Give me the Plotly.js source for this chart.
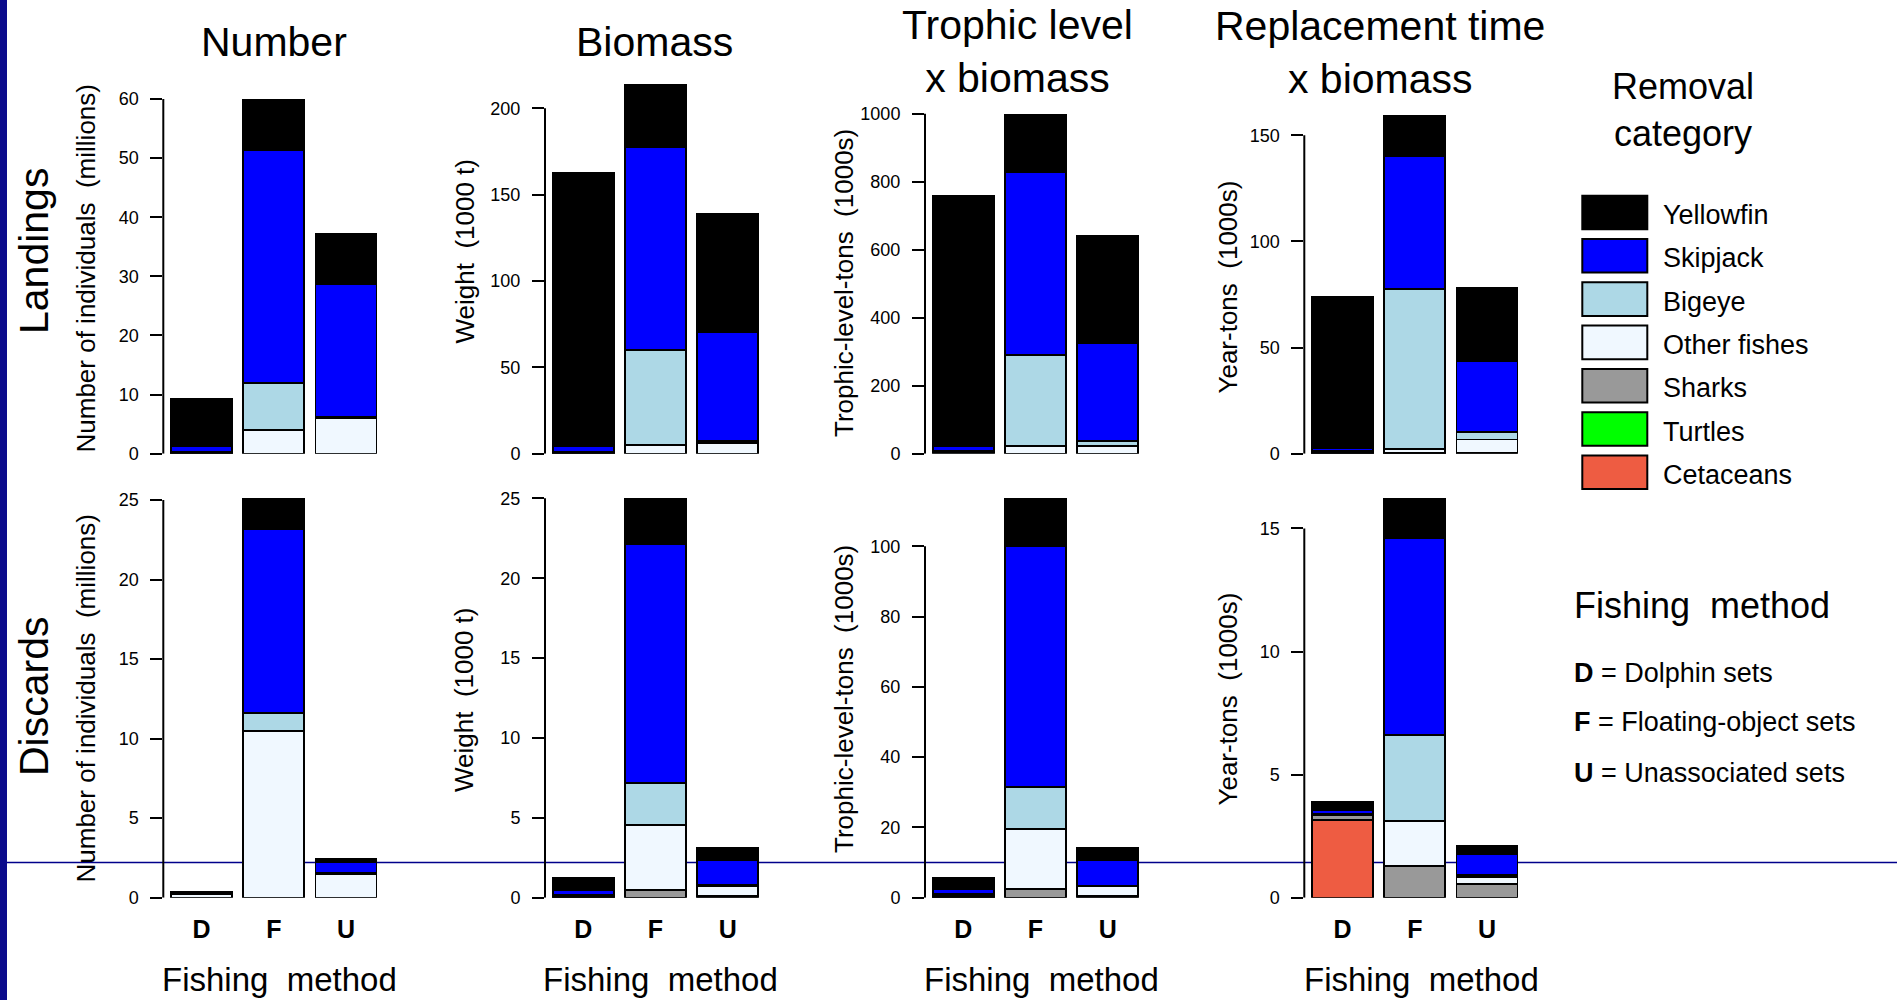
<!DOCTYPE html>
<html>
<head>
<meta charset="utf-8">
<script src="https://cdn.plot.ly/plotly-3.0.1.min.js"></script>
<style>html,body{margin:0;padding:0;background:#fff;}#chart{width:1897px;height:1000px;}</style>
</head>
<body>
<div id="chart"></div>
<script>
// ---------------- DATA ----------------
const categories = ['Yellowfin','Skipjack','Bigeye','Other fishes','Sharks','Turtles','Cetaceans'];
const colors = ['#000000','#0000FF','#ADD8E6','#F0F8FF','#999999','#00FF00','#EE5C42'];
const methods = ['D','F','U'];
const methodNames = ['Dolphin sets','Floating-object sets','Unassociated sets'];

// rows follow `categories`, columns follow `methods` (D, F, U)
const landingsNumber = [   // millions of individuals
  [7.9, 8.5, 8.4],
  [1.0, 39.4, 22.4],
  [0.2, 7.9, 0.3],
  [0.14, 4.0, 6.0],
  [0, 0, 0],
  [0, 0, 0],
  [0, 0, 0]
];
const landingsBiomass = [  // 1000 t
  [158.2, 36.2, 68.4],
  [3.3, 117.5, 62.7],
  [0.7, 54.8, 1.5],
  [0.5, 5.2, 6.0],
  [0, 0, 0],
  [0, 0, 0],
  [0, 0, 0]
];
const landingsTrophic = [  // trophic-level-tons (1000s)
  [735.5, 167, 314],
  [15.5, 539, 289],
  [4, 268, 15],
  [4, 22, 22],
  [0, 0, 0],
  [0, 0, 0],
  [0, 0, 0]
];
const landingsReplacement = [ // year-tons (1000s)
  [71.2, 19.1, 34.7],
  [1.5, 62.6, 33.3],
  [0.6, 75.3, 3.5],
  [0.5, 2.0, 6.1],
  [0, 0.3, 0.6],
  [0, 0, 0],
  [0, 0, 0]
];
const discardsNumber = [
  [0.13, 1.85, 0.25],
  [0.02, 11.6, 0.69],
  [0, 1.1, 0.03],
  [0.2, 10.5, 1.5],
  [0, 0, 0],
  [0, 0, 0],
  [0, 0, 0]
];
const discardsBiomass = [
  [0.75, 2.82, 0.77],
  [0.3, 14.95, 1.52],
  [0.05, 2.63, 0.1],
  [0.1, 4.09, 0.63],
  [0.05, 0.48, 0.1],
  [0, 0, 0],
  [0, 0, 0]
];
const discardsTrophic = [
  [3.33, 13.4, 3.5],
  [1.33, 68.5, 7.3],
  [0.24, 12.1, 0.1],
  [0.5, 17.0, 2.8],
  [0.3, 2.5, 0.5],
  [0, 0, 0],
  [0, 0, 0]
];
const discardsReplacement = [
  [0.34, 1.59, 0.35],
  [0.14, 7.99, 0.84],
  [0.02, 3.5, 0.07],
  [0.05, 1.8, 0.3],
  [0.2, 1.3, 0.55],
  [0, 0, 0],
  [3.15, 0, 0]
];

const ticksNumberL = [0, 10, 20, 30, 40, 50, 60];
const ticksBiomassL = [0, 50, 100, 150, 200];
const ticksTrophicL = [0, 200, 400, 600, 800, 1000];
const ticksReplL = [0, 50, 100, 150];
const ticksNumberD = [0, 5, 10, 15, 20, 25];
const ticksBiomassD = [0, 5, 10, 15, 20, 25];
const ticksTrophicD = [0, 20, 40, 60, 80, 100];
const ticksReplD = [0, 5, 10, 15];

const panelTitles = ['Number', 'Biomass', 'Trophic level<br>x biomass', 'Replacement time<br>x biomass'];
const yTitles = ['Number of individuals \u00A0(millions)', 'Weight \u00A0(1000 t)', 'Trophic-level-tons \u00A0(1000s)', 'Year-tons \u00A0(1000s)'];
const rowLabels = ['Landings', 'Discards'];

// ---------------- LAYOUT HELPERS ----------------
const W = 1897, H = 1000;
const px = v => v / W;
const py = v => 1 - v / H;
const FONT = 'Liberation Sans, Arial, Helvetica, sans-serif';

const axisX = [163.3, 545, 925, 1304.3];        // y-axis line position of each column (px)
const rowBase = [453.7, 897.7];                 // pixel of value 0 in each row
const rowTop = [60, 490];
const colWidthPx = 240;
const unitPx = 72.2;                            // px per category step
const axisOff = 0.53;                           // axis position left of first bar centre (category units)
const rangeMax = [66.6, 228.0, 1158, 185.5, 25.63, 25.52, 116.0, 16.56];

const panels = [
  {data: landingsNumber, ticks: ticksNumberL},
  {data: landingsBiomass, ticks: ticksBiomassL},
  {data: landingsTrophic, ticks: ticksTrophicL},
  {data: landingsReplacement, ticks: ticksReplL},
  {data: discardsNumber, ticks: ticksNumberD},
  {data: discardsBiomass, ticks: ticksBiomassD},
  {data: discardsTrophic, ticks: ticksTrophicD},
  {data: discardsReplacement, ticks: ticksReplD}
];

const traces = [];
const layout = {
  width: W, height: H,
  margin: {l: 0, r: 0, t: 0, b: 0},
  paper_bgcolor: '#ffffff',
  plot_bgcolor: 'rgba(0,0,0,0)',
  barmode: 'stack',
  showlegend: false,
  font: {family: FONT, color: '#000'},
  shapes: [],
  annotations: []
};

panels.forEach((p, i) => {
  const row = Math.floor(i / 4), col = i % 4;
  const n = i + 1;
  const xk = n === 1 ? 'x' : 'x' + n;
  const yk = n === 1 ? 'y' : 'y' + n;
  for (let c = categories.length - 1; c >= 0; c--) {
    traces.push({
      type: 'bar', x: methods, y: p.data[c],
      xaxis: xk, yaxis: yk, width: 0.845,
      name: categories[c],
      marker: {color: colors[c], line: {color: '#000', width: 1.8}},
      hoverinfo: 'skip', showlegend: false
    });
  }
  const x0 = axisX[col];
  layout['xaxis' + (n === 1 ? '' : n)] = {
    domain: [px(x0), px(x0 + colWidthPx)],
    anchor: yk, type: 'category',
    range: [-axisOff, -axisOff + colWidthPx / unitPx],
    showline: false, showgrid: false, zeroline: false, ticks: '',
    showticklabels: row === 1,
    tickmode: 'array', tickvals: methods,
    ticktext: methods.map(m => '<b>' + m + '</b>'),
    tickfont: {size: 25, family: FONT, color: '#000'},
    ticklabelstandoff: 14,
    fixedrange: true
  };
  layout['yaxis' + (n === 1 ? '' : n)] = {
    domain: [py(rowBase[row]), py(rowTop[row])],
    anchor: xk,
    range: [0, rangeMax[i]],
    showline: false, showgrid: false, zeroline: false,
    ticks: 'outside', ticklen: 12, tickwidth: 2, tickcolor: '#000',
    tickmode: 'array', tickvals: p.ticks,
    tickfont: {size: 18, family: FONT, color: '#000'},
    ticklabelstandoff: 8,
    fixedrange: true
  };
  // axis line from first to last tick (R style)
  layout.shapes.push({
    type: 'line', xref: 'paper', yref: yk,
    x0: px(x0), x1: px(x0), y0: p.ticks[0], y1: p.ticks[p.ticks.length - 1],
    line: {color: '#000', width: 2}
  });
});

// ---------------- DECORATION ----------------
layout.shapes.unshift({
  type: 'rect', xref: 'paper', yref: 'paper', x0: 0, x1: px(7), y0: 0, y1: 1,
  fillcolor: '#0b0b8c', line: {width: 0}, layer: 'below'
});
layout.shapes.unshift({
  type: 'line', xref: 'paper', yref: 'paper', x0: px(7), x1: 1, y0: py(862.5), y1: py(862.5),
  line: {color: '#00008B', width: 1.3}, layer: 'below'
});

// panel titles
const titleX = [274, 654, 1017, 1380];
const titleY = [42, 42, 51, 52];
panelTitles.forEach((t, k) => layout.annotations.push({
  text: t, xref: 'paper', yref: 'paper', x: px(titleX[k]), y: py(titleY[k]),
  xanchor: 'center', yanchor: 'middle', showarrow: false,
  font: {size: 41, family: FONT, color: '#000'}
}));

// y-axis titles
const yTitleX = [85.5, 464, 844, 1227.5];
const yTitleY = [[269, 251.5, 283, 287], [699, 700, 699, 699]];
[0, 1].forEach(r => yTitles.forEach((t, k) => layout.annotations.push({
  text: t, xref: 'paper', yref: 'paper', x: px(yTitleX[k]), y: py(yTitleY[r][k]),
  xanchor: 'center', yanchor: 'middle', textangle: -90, showarrow: false,
  font: {size: 26, family: FONT, color: '#000'}
})));

// row labels
const rowLabelY = [251, 697];
rowLabels.forEach((t, r) => layout.annotations.push({
  text: t, xref: 'paper', yref: 'paper', x: px(34), y: py(rowLabelY[r]),
  xanchor: 'center', yanchor: 'middle', textangle: -90, showarrow: false,
  font: {size: 41, family: FONT, color: '#000'}
}));

// x-axis titles
const xTitleX = [279, 660, 1041, 1421];
xTitleX.forEach(xv => layout.annotations.push({
  text: 'Fishing \u00A0method', xref: 'paper', yref: 'paper', x: px(xv), y: py(979),
  xanchor: 'center', yanchor: 'middle', showarrow: false,
  font: {size: 33, family: FONT, color: '#000'}
}));

// legend: removal category
layout.annotations.push({
  text: 'Removal<br>category', xref: 'paper', yref: 'paper', x: px(1683), y: py(110),
  xanchor: 'center', yanchor: 'middle', showarrow: false,
  font: {size: 36, family: FONT, color: '#000'}
});
categories.forEach((c, k) => {
  const cy = 212.5 + k * 43.3;
  layout.shapes.push({
    type: 'rect', xref: 'paper', yref: 'paper',
    x0: px(1582.3), x1: px(1647.3), y0: py(cy - 16.8), y1: py(cy + 16.8),
    fillcolor: colors[k], line: {color: '#000', width: 2}
  });
  layout.annotations.push({
    text: c, xref: 'paper', yref: 'paper', x: px(1661), y: py(cy + 2.5),
    xanchor: 'left', yanchor: 'middle', showarrow: false,
    font: {size: 27, family: FONT, color: '#000'}
  });
});

// legend: fishing method
layout.annotations.push({
  text: 'Fishing \u00A0method', xref: 'paper', yref: 'paper', x: px(1572), y: py(605),
  xanchor: 'left', yanchor: 'middle', showarrow: false,
  font: {size: 36, family: FONT, color: '#000'}
});
const methodLineY = [673, 721.7, 773.3];
methods.forEach((m, k) => layout.annotations.push({
  text: '<b>' + m + '</b> = ' + methodNames[k], xref: 'paper', yref: 'paper',
  x: px(1572), y: py(methodLineY[k]),
  xanchor: 'left', yanchor: 'middle', showarrow: false,
  font: {size: 27, family: FONT, color: '#000'}
}));

Plotly.newPlot('chart', traces, layout, {staticPlot: true, displayModeBar: false});
</script>
</body>
</html>
